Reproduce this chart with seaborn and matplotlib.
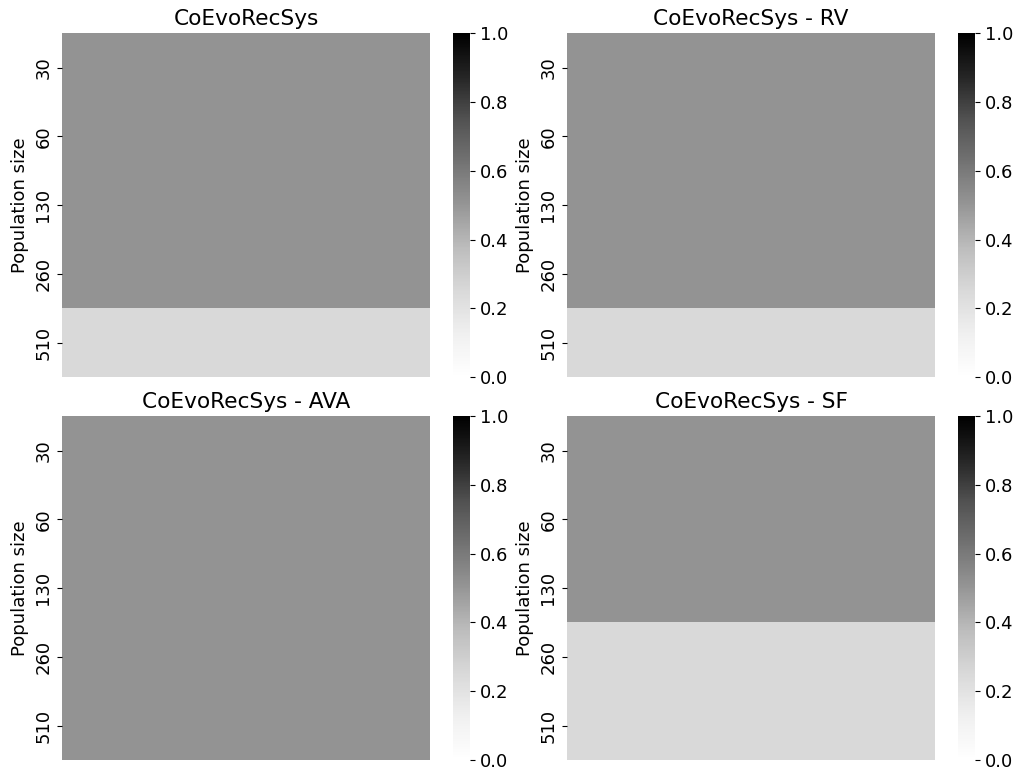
import matplotlib
matplotlib.use("Agg")
import matplotlib.pyplot as plt
import seaborn as sns
import pandas as pd

# population sizes (rows of every heatmap)
pop_sizes = [30, 60, 130, 260, 510]

# one value per population size for each variant
coevo = [0.51, 0.51, 0.51, 0.51, 0.25]
coevo_rv = [0.51, 0.51, 0.51, 0.51, 0.25]
coevo_ava = [0.51, 0.51, 0.51, 0.51, 0.51]
coevo_sf = [0.51, 0.51, 0.51, 0.25, 0.25]

titles = ["CoEvoRecSys", "CoEvoRecSys - RV", "CoEvoRecSys - AVA", "CoEvoRecSys - SF"]
series = [coevo, coevo_rv, coevo_ava, coevo_sf]

plt.rcParams['font.size'] = 13

fig, axes = plt.subplots(2, 2, figsize=(10.2, 7.74), dpi=100)
fig.subplots_adjust(left=0.0608, right=1.0069, top=0.957, bottom=0.018,
                    wspace=0.098, hspace=0.113)

for ax, title, vals in zip(axes.flat, titles, series):
    df = pd.DataFrame({'value': vals}, index=pop_sizes)
    sns.heatmap(df, ax=ax, cmap='Greys', vmin=0, vmax=1,
                xticklabels=False, yticklabels=pop_sizes)
    ax.set_title(title, fontsize=15.6)
    ax.set_ylabel('Population size', fontsize=13)
    ax.tick_params(axis='y', labelsize=13)
    ax.collections[0].colorbar.ax.tick_params(labelsize=13)

plt.savefig('out.png', dpi=100)
